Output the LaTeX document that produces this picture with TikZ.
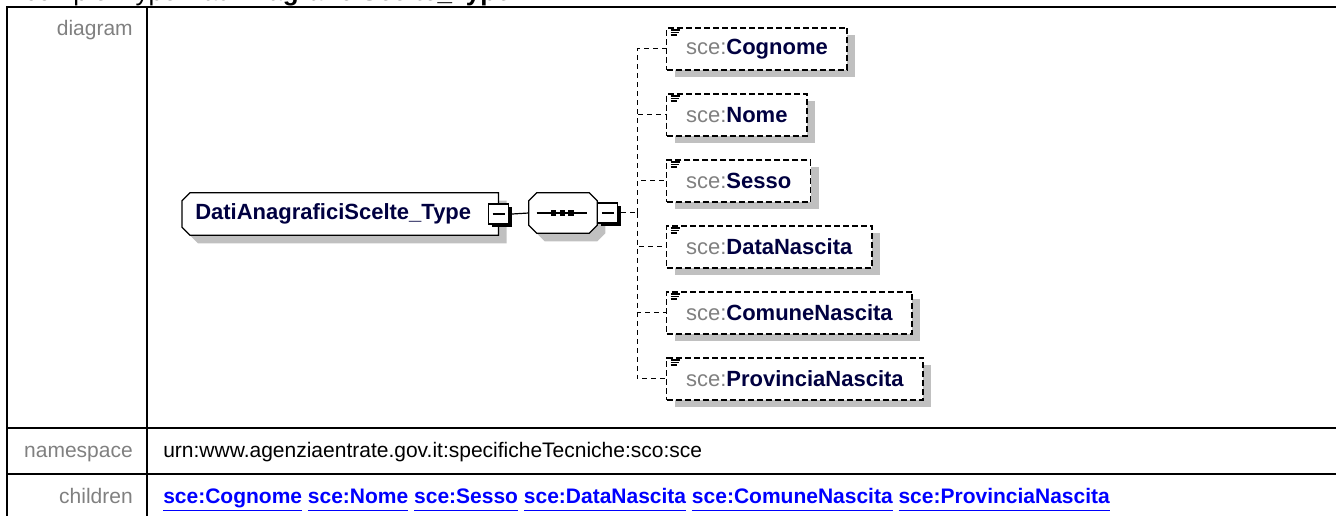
\documentclass[tikz,border=0pt]{standalone}
\usepackage{fontspec}
\setmainfont{Liberation Sans}
\usetikzlibrary{shadows}
\pgfdeclarelayer{background}
\pgfsetlayers{background,main}
\definecolor{shade}{RGB}{192,192,192}
\definecolor{ink}{RGB}{0,0,64}
\definecolor{lbl}{RGB}{128,128,128}
\definecolor{link}{RGB}{0,0,255}
\newcommand\lnk[1]{\underline{\smash{#1}\vphantom{g}}}
\newcommand\sce[1]{{\color{lbl}sce:}\textbf{#1}}
% outlines: complexType (left corners cut) and sequence (all corners cut)
\newcommand\typeline[1]{([xshift=6pt]#1.north west) -- (#1.north east) -- (#1.south east)
    -- ([xshift=6pt]#1.south west) -- ([yshift=6pt]#1.south west) -- ([yshift=-6pt]#1.north west) -- cycle}
\newcommand\seqline[1]{([xshift=6pt]#1.north west) -- ([xshift=-6pt]#1.north east) -- ([yshift=-6pt]#1.north east)
    -- ([yshift=6pt]#1.south east) -- ([xshift=-6pt]#1.south east) -- ([xshift=6pt]#1.south west)
    -- ([yshift=6pt]#1.south west) -- ([yshift=-6pt]#1.north west) -- cycle}

\begin{document}
\begin{tikzpicture}[x=0.75pt,y=-0.75pt,
    rule/.style={line width=1.5pt},
    head/.style={anchor=base east,text=lbl,inner sep=0pt,font=\fontsize{15.75}{18}\selectfont},
    cell/.style={anchor=base west,inner sep=0pt,font=\fontsize{15.75}{18}\selectfont},
    ctype/.style={rectangle,anchor=west,text=ink,inner xsep=9.75pt,inner ysep=0pt,
        text width=217.5pt,align=left,minimum height=31.5pt,font=\fontsize{16.5}{19}\selectfont\bfseries},
    seq/.style={rectangle,minimum width=51pt,minimum height=30pt,inner sep=0pt},
    outline/.style={draw,fill=white,line width=0.9pt},
    shadow/.style={fill=shade,transform canvas={xshift=6pt,yshift=-6pt}},
    btn/.style={rectangle,draw,fill=white,line width=0.9pt,minimum size=15pt,inner sep=0pt,
        drop shadow={shadow xshift=2.25pt,shadow yshift=-2.25pt,fill=black,opacity=1},
        path picture={\draw[line width=0.9pt] ([xshift=3pt]path picture bounding box.west)
            -- ([xshift=-3pt]path picture bounding box.east);}},
    elem/.style={rectangle,draw,fill=white,dash pattern=on 4.5pt off 2.25pt,line width=1.1pt,
        minimum height=31.5pt,inner xsep=14.5pt,inner ysep=0pt,anchor=west,text=ink,
        font=\fontsize{16.5}{19}\selectfont,
        drop shadow={shadow xshift=6pt,shadow yshift=-5.25pt,fill=shade,opacity=1},
        path picture={
            \draw[solid,line width=0.9pt] ([xshift=3pt,yshift=-1.5pt]path picture bounding box.north west) -- ++(7pt,0);
            \draw[solid,line width=0.9pt] ([xshift=3pt,yshift=-3.4pt]path picture bounding box.north west) -- ++(6pt,0);
            \draw[solid,line width=0.9pt] ([xshift=3pt,yshift=-5.3pt]path picture bounding box.north west) -- ++(5pt,0);}},
    conn/.style={line width=0.75pt,dash pattern=on 3.75pt off 3pt},
]
\useasboundingbox (0,0) rectangle (1336,516);
\clip (0,0) rectangle (1336,516);

% table
\node[anchor=base west,inner sep=0pt,font=\fontsize{19.5}{22}\selectfont] (title) at (24,0.5)
    {complexType \textbf{DatiAnagraficiScelte\_Type}};
\draw[rule] (7,516) -- (7,7) -- (1336,7);
\draw[rule] (147,7) -- (147,516);
\draw[rule] (7,428) -- (1336,428);
\draw[rule] (7,474) -- (1336,474);

\node[head] (hdiag) at (133,36) {diagram};
\node[head] (hns) at (133,458) {namespace};
\node[head] (hkids) at (133,504) {children};
\node[cell] (ns) at (163,458) {urn:www.agenziaentrate.gov.it:specificheTecniche:sco:sce};
\node[cell,text=link,font=\fontsize{15.75}{18}\selectfont\bfseries] (kids) at (163,504)
    {\lnk{sce:Cognome} \lnk{sce:Nome} \lnk{sce:Sesso} \lnk{sce:DataNascita} \lnk{sce:ComuneNascita} \lnk{sce:ProvinciaNascita}};

% diagram
\node[ctype] (type) at (182,214) {DatiAnagraficiScelte\_Type};
\node[seq] (seq) at (563,213) {};
\begin{pgfonlayer}{background}
    \path[shadow] \typeline{type};
    \path[outline] \typeline{type};
    \path[shadow] \seqline{seq};
    \path[outline] \seqline{seq};
\end{pgfonlayer}
\node[btn] (tbtn) at (type.east) {};
\node[btn,anchor=west] (sbtn) at (seq.east) {};
\draw[line width=0.9pt] ([xshift=2.25pt]tbtn.east) -- (seq.west);
\draw[line width=0.9pt] ([xshift=6pt]seq.west) -- ([xshift=-7.5pt]seq.east);
\foreach \dx in {-7,-0.5,6}
    \fill ([xshift=\dx pt]seq.center) ++(-1.9pt,-1.9pt) rectangle ++(3.8pt,3.8pt);

\coordinate (fork) at (637,213);
\draw[conn] ([xshift=2.25pt]sbtn.east) -- (fork);
\foreach \n [count=\i from 0] in {Cognome,Nome,Sesso,DataNascita,ComuneNascita,ProvinciaNascita} {
    \node[elem] (c\i) at (666,49+66*\i) {\sce{\n}};
    \draw[conn] (fork) |- (c\i.west);
}
\end{tikzpicture}
\end{document}
